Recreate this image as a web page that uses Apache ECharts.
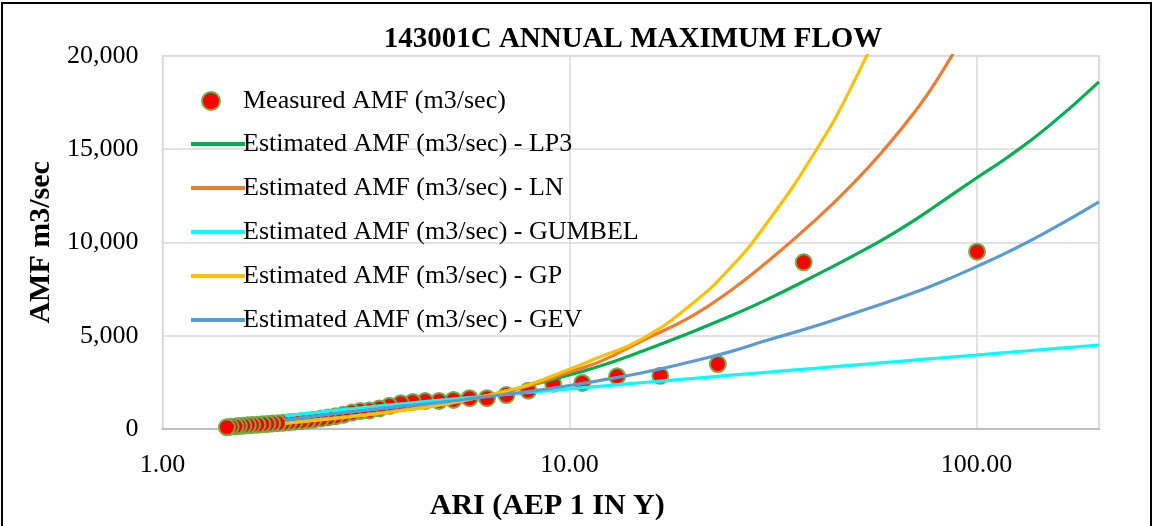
<!DOCTYPE html>
<html>
<head>
<meta charset="utf-8">
<title>143001C Annual Maximum Flow</title>
<script src="https://cdn.jsdelivr.net/npm/echarts@6/dist/echarts.min.js"></script>
<style>
  html, body { margin: 0; padding: 0; background: #fff; }
  #chart { width: 1154px; height: 526px; }
</style>
</head>
<body>
<div id="chart"></div>
<script>
// measured annual maximum flows, ranked (ARI from plotting position)
var ariMeasured = [100.33, 37.63, 23.15, 16.72, 13.09, 10.75, 9.12, 7.92, 7.00, 6.27, 5.68, 5.19, 4.78, 4.42, 4.12,
  3.85, 3.61, 3.41, 3.22, 3.06, 2.92, 2.78, 2.66, 2.55, 2.45, 2.35, 2.27, 2.19, 2.11, 2.04, 1.98, 1.92, 1.86,
  1.81, 1.76, 1.71, 1.66, 1.62, 1.58, 1.54, 1.51, 1.47, 1.44];
var amfMeasured = [9500, 8930, 3480, 2850, 2820, 2470, 2420, 2050, 1820, 1650, 1650, 1560, 1500, 1500, 1450,
  1380, 1240, 1100, 990, 960, 880, 760, 680, 620, 560, 500, 460, 420, 390, 360, 330, 310, 290,
  270, 250, 230, 215, 200, 180, 160, 140, 120, 90];

// fitted distributions
var ariFit = [2, 2.5, 3, 4, 5, 6, 7, 8, 10, 12, 15, 20, 25, 30, 40, 50, 60, 70, 80, 100, 120, 150, 200];
var amfLP3 = [320, 530, 720, 1050, 1380, 1710, 2020, 2330, 2900, 3400, 4150, 5200, 6080, 6850, 8200, 9300,
  10250, 11150, 12000, 13450, 14600, 16200, 18600];
var amfLN = [320, 540, 720, 1050, 1370, 1700, 2020, 2330, 3050, 3650, 4700, 6050, 7450, 8800, 11150, 13200,
  15100, 16900, 18700, 22300];
var amfGumbel = [700, 935, 1113, 1378, 1573, 1729, 1858, 1969, 2152, 2300, 2479, 2707, 2883, 3026, 3251, 3425,
  3567, 3687, 3791, 3964, 4105, 4278, 4500];
var amfGP = [305, 520, 700, 1030, 1350, 1700, 2050, 2400, 3200, 3900, 4800, 6700, 8700, 10800, 14800, 18600,
  22500, 26500];
var amfGEV = [480, 750, 950, 1250, 1470, 1680, 1860, 2020, 2330, 2620, 3000, 3620, 4160, 4700, 5500, 6200,
  6780, 7300, 7780, 8700, 9500, 10600, 12170];

var xTicks = [1, 10, 100];

var measuredName = 'Measured AMF (m3/sec)';
var lineNames = [
  'Estimated AMF (m3/sec) - LP3',
  'Estimated AMF (m3/sec) - LN',
  'Estimated AMF (m3/sec) - GUMBEL',
  'Estimated AMF (m3/sec) - GP',
  'Estimated AMF (m3/sec) - GEV'
];
var lineValues = [amfLP3, amfLN, amfGumbel, amfGP, amfGEV];
var lineColors = ['#00b050', '#ed7d31', '#00ffff', '#ffc000', '#5b9bd5'];

var serif = "'Liberation Serif', 'Times New Roman', serif";

function pairs(xs, ys) {
  var out = [];
  for (var i = 0; i < ys.length; i++) out.push([xs[i], ys[i]]);
  return out;
}

var series = [{
  name: measuredName,
  type: 'scatter',
  data: pairs(ariMeasured, amfMeasured),
  symbol: 'circle',
  symbolSize: 16,
  itemStyle: { color: '#ff0000', borderColor: '#70ad47', borderWidth: 2, opacity: 1 }
}];
lineNames.forEach(function (name, i) {
  series.push({
    name: name,
    type: 'line',
    data: pairs(ariFit, lineValues[i]),
    symbol: 'none',
    showSymbol: false,
    smooth: 0.5,
    clip: true,
    itemStyle: { color: lineColors[i] },
    lineStyle: { color: lineColors[i], width: 3.2 }
  });
});

var chart = echarts.init(document.getElementById('chart'));
chart.setOption({
  animation: false,
  backgroundColor: '#fff',
  title: {
    text: '143001C ANNUAL MAXIMUM FLOW',
    left: 628,
    top: 20,
    textAlign: 'center',
    textStyle: { fontFamily: serif, fontSize: 29, fontWeight: 'bold', color: '#000' }
  },
  grid: {
    left: 162.5, right: 55, top: 55.7, bottom: 97,
    show: true, borderColor: '#d9d9d9', borderWidth: 1.5,
    outerBoundsMode: 'none'
  },
  legend: [{
    data: [measuredName],
    orient: 'vertical',
    left: 196, top: 83,
    itemWidth: 54, itemHeight: 18,
    selectedMode: false,
    textStyle: { fontFamily: serif, fontSize: 26, color: '#000', lineHeight: 26 }
  }, {
    data: lineNames,
    orient: 'vertical',
    left: 186, top: 126,
    itemWidth: 54, itemHeight: 4,
    itemGap: 18,
    icon: 'rect',
    selectedMode: false,
    textStyle: { fontFamily: serif, fontSize: 26, color: '#000', lineHeight: 26, padding: [0, 0, 0, -7] }
  }],
  xAxis: {
    type: 'log',
    logBase: 10,
    min: 1,
    max: 200,
    name: 'ARI (AEP 1 IN Y)',
    nameLocation: 'middle',
    nameGap: 62,
    nameTextStyle: { fontFamily: serif, fontSize: 30, fontWeight: 'bold', color: '#000', padding: [0, 167, 0, 0] },
    axisLine: { lineStyle: { color: '#bfbfbf', width: 2 } },
    axisTick: { show: false },
    axisLabel: {
      fontFamily: serif, fontSize: 26, color: '#000', margin: 23,
      showMaxLabel: false,
      formatter: function (v) { return xTicks.indexOf(Math.round(v)) >= 0 ? v.toFixed(2) : ''; }
    },
    splitLine: { show: true, lineStyle: { color: '#d9d9d9', width: 1.5 } }
  },
  yAxis: {
    type: 'value',
    min: 0,
    max: 20000,
    interval: 5000,
    name: 'AMF m3/sec',
    nameLocation: 'middle',
    nameGap: 102,
    nameTextStyle: { fontFamily: serif, fontSize: 30, fontWeight: 'bold', color: '#000' },
    axisLine: { show: false },
    axisTick: { show: false },
    axisLabel: {
      fontFamily: serif, fontSize: 26, color: '#000', margin: 24,
      formatter: function (v) { return v.toLocaleString('en-US'); }
    },
    splitLine: { lineStyle: { color: '#d9d9d9', width: 1.5 } }
  },
  graphic: [{
    type: 'rect',
    silent: true,
    z: 100,
    shape: { x: 2, y: 3, width: 1149, height: 600 },
    style: { fill: 'none', stroke: '#000', lineWidth: 2 }
  }],
  series: series
});
</script>
</body>
</html>
